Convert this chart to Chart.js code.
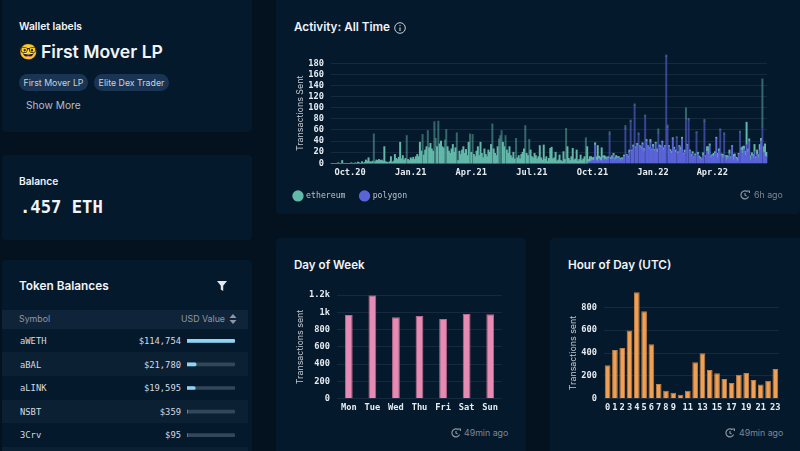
<!DOCTYPE html>
<html>
<head>
<meta charset="utf-8">
<title>Wallet</title>
<script src="https://cdn.jsdelivr.net/npm/chart.js@4"></script>
<style>
  html, body { margin: 0; padding: 0; }
  body { width: 800px; height: 451px; overflow: hidden; position: relative; background: #04121f; font-family: Inter, sans-serif; color: #f2f4f7; }
  .card { position: absolute; background: #05192c; border-radius: 4px; }
  .txt { position: absolute; white-space: nowrap; line-height: 1; }
  .mono { font-family: "DejaVu Sans Mono", monospace; }
  .pill { position: absolute; height: 17px; line-height: 17px; border-radius: 9px; background: #1a3553; color: #c9d2dc; font-size: 8.8px; text-align: center; }
  .row { position: absolute; left: 2px; width: 246px; }
  .ago { position: absolute; font-size: 8.8px; color: #7e8893; line-height: 1; white-space: nowrap; }
  canvas { position: absolute; }
  svg { position: absolute; }
</style>
</head>
<body>

<div class="card" style="left:2px;top:-4px;width:250px;height:136px"></div>
<div class="card" style="left:2px;top:155px;width:250px;height:85px"></div>
<div class="card" style="left:2px;top:260px;width:250px;height:195px"></div>
<div class="card" style="left:276px;top:-4px;width:524px;height:218px"></div>
<div class="card" style="left:276px;top:238px;width:250px;height:217px"></div>
<div class="card" style="left:550px;top:238px;width:254px;height:217px"></div>

<div class="txt" style="left:19px;top:21px;font-size:10.3px;font-weight:600">Wallet labels</div>
<div class="txt" style="left:19px;top:44px;font-size:15px">🤓</div>
<div class="txt" style="left:41px;top:43px;font-size:17.6px;font-weight:600">First Mover LP</div>
<div class="pill" style="left:19px;top:74px;width:69px">First Mover LP</div>
<div class="pill" style="left:94px;top:74px;width:75px">Elite Dex Trader</div>
<div class="txt" style="left:26px;top:100px;font-size:10.2px;color:#b5bcc5">Show More</div>

<div class="txt" style="left:19px;top:176px;font-size:10.2px;font-weight:600">Balance</div>
<div class="txt mono" style="left:20px;top:199px;font-size:17.2px;font-weight:700">.457 ETH</div>

<div class="txt" style="left:19px;top:281px;font-size:11.8px;font-weight:600">Token Balances</div>
<svg style="left:217px;top:281px" width="10" height="10" viewBox="0 0 10 10"><path d="M0 0H10L6.2 4.8V10L3.8 8.4V4.8Z" fill="#e4e8ec"/></svg>

<div class="row" style="top:310px;height:19px;background:#0f2439"></div>
<div class="row" style="top:352px;height:24px;background:#0c2034"></div>
<div class="row" style="top:400px;height:23px;background:#0c2034"></div>
<div class="row" style="top:447px;height:4px;background:#0c2034"></div>
<div class="txt" style="left:19px;top:315px;font-size:8.8px;color:#8d99a8">Symbol</div>
<div class="txt" style="right:575px;top:315px;font-size:8.8px;color:#8d99a8">USD Value</div>
<svg style="left:229px;top:314px" width="8" height="10" viewBox="0 0 8 10"><path d="M4 0L7.5 4H.5ZM4 10L.5 6H7.5Z" fill="#8d99a8"/></svg>
<div id="tokenRows"></div>
<canvas id="tokenChart" style="left:187px;top:329px;width:48px;height:118px"></canvas>

<div class="txt" style="left:294px;top:22px;font-size:11.7px;font-weight:600">Activity: All Time</div>
<svg style="left:394px;top:22px" width="12" height="12" viewBox="0 0 12 12"><circle cx="6" cy="6" r="5.3" fill="none" stroke="#c9ced4" stroke-width="1"/><path d="M6 5.2V9M6 3V4" stroke="#c9ced4" stroke-width="1.1"/></svg>
<canvas id="activityChart" style="left:279px;top:50px;width:501px;height:160px"></canvas>
<svg style="left:740px;top:190px" width="10" height="10" viewBox="0 0 10 10"><path d="M8.6 6.5A4 4 0 1 1 7.5 1.8M5 3V5.2L6.6 6M7 1H9.4V3" fill="none" stroke="#8a949e" stroke-width="1.2"/></svg>
<div class="ago" style="left:754px;top:191px">6h ago</div>

<div class="txt" style="left:294px;top:260px;font-size:11.6px;font-weight:600">Day of Week</div>
<canvas id="dayChart" style="left:290px;top:283px;width:225px;height:130px"></canvas>
<svg style="left:451px;top:428px" width="10" height="10" viewBox="0 0 10 10"><path d="M8.6 6.5A4 4 0 1 1 7.5 1.8M5 3V5.2L6.6 6M7 1H9.4V3" fill="none" stroke="#8a949e" stroke-width="1.2"/></svg>
<div class="ago" style="left:464px;top:429px">49min ago</div>

<div class="txt" style="left:568px;top:260px;font-size:11.7px;font-weight:600">Hour of Day (UTC)</div>
<canvas id="hourChart" style="left:560px;top:285px;width:225px;height:128px"></canvas>
<svg style="left:725px;top:428px" width="10" height="10" viewBox="0 0 10 10"><path d="M8.6 6.5A4 4 0 1 1 7.5 1.8M5 3V5.2L6.6 6M7 1H9.4V3" fill="none" stroke="#8a949e" stroke-width="1.2"/></svg>
<div class="ago" style="left:739px;top:429px">49min ago</div>

<script>
// values, one bucket is about two days
const ethereumTx = [
  0,0,0,0,0,1,0,0,5,0, 0,0,0,0,0,1,0,0,1,0, 2,1,0,3,0,2,6,4,10,3, 2,4,53,3,6,5,7,5,6,4,
  30,3,2,1,3,12,2,4,16,9, 7,11,38,8,14,6,9,50,7,5, 10,8,11,7,12,16,12,38,22,52, 15,24,30,59,28,36,26,22,75,45,
  30,76,35,40,30,28,42,61,30,22, 18,26,34,20,28,55,5,22,16,24, 30,18,25,14,38,53,20,52,16,12, 22,30,14,38,18,10,26,16,12,24,
  20,34,71,26,18,14,30,44,50,59, 38,30,50,24,18,30,14,10,20,8, 45,10,14,8,16,20,26,68,18,14, 43,24,12,10,18,14,8,12,32,10,
  6,33,8,12,4,9,27,29,8,10, 20,4,6,15,5,3,21,7,63,30, 9,5,12,27,6,8,24,4,7,15, 5,8,12,46,30,5,9,8,4,6,
  4,6,29,5,6,24,3,8,4,5, 3,5,4,6,3,4,6,2,3,5, 2,4,3,6,2,3,4,3,2,3, 3,2,4,3,2,4,3,5,2,3,
  2,3,5,2,4,3,2,6,8,3, 3,2,4,2,3,5,2,3,4,2, 3,4,2,3,2,5,3,2,4,20, 2,3,2,4,3,2,3,2,4,3,
  3,2,5,4,2,8,14,3,4,2, 6,3,2,8,4,2,3,6,3,2, 8,3,6,4,2,10,5,3,6,2, 3,4,12,5,8,40,6,4,8,5,
  6,12,4,8,6,10,5,87,10,22, 8
];
const polygonTx = [
  0,0,0,0,0,0,0,0,0,0, 0,0,0,0,0,0,0,0,0,0, 0,0,0,0,0,0,0,0,0,0, 0,0,0,0,0,0,0,0,0,0,
  0,0,0,0,0,0,0,0,0,0, 0,0,0,0,0,0,0,0,0,0, 0,0,0,0,0,0,0,0,0,0, 0,0,0,0,0,0,0,0,0,0,
  0,0,0,0,0,0,0,0,0,0, 0,0,0,0,0,0,0,0,0,0, 0,0,0,0,0,0,0,0,0,0, 0,0,0,0,0,0,0,0,0,0,
  0,0,0,0,0,0,0,0,0,0, 0,0,0,0,0,0,0,0,0,0, 0,0,0,0,0,0,0,0,0,0, 0,0,0,0,0,0,0,0,0,0,
  0,0,0,0,0,0,0,0,0,0, 0,0,0,0,0,0,0,0,0,0, 0,0,0,0,0,0,0,0,0,0, 0,0,0,0,0,2,3,4,6,5,
  33,6,3,8,5,4,10,6,8,5, 9,52,7,8,15,6,8,10,9,4, 8,6,12,62,14,10,20,75,22,30, 104,28,32,52,30,26,34,22,85,40,
  30,26,38,24,30,22,36,20,54,30, 28,38,24,30,192,64,30,22,18,44, 26,20,46,18,30,24,44,16,20,80, 32,78,22,12,18,10,14,55,16,10,
  8,6,14,75,12,22,16,32,10,14, 12,18,45,10,22,60,14,10,52,12, 6,10,18,8,30,6,12,8,4,16, 55,24,18,26,14,34,20,40,6,14,
  10,22,8,16,10,24,40,65,20,13, 12
];
const activityTickIndex = [14, 60, 106, 152, 198, 244, 289];
const activityTickLabels = ['Oct.20', 'Jan.21', 'Apr.21', 'Jul.21', 'Oct.21', 'Jan.22', 'Apr.22'];

const weekDays = ['Mon', 'Tue', 'Wed', 'Thu', 'Fri', 'Sat', 'Sun'];
const dayTx = [971, 1200, 944, 959, 925, 982, 978];

const hours = ['0','1','2','3','4','5','6','7','8','9','10','11','12','13','14','15','16','17','18','19','20','21','22','23'];
const hourTx = [292, 426, 444, 598, 931, 765, 476, 128, 70, 52, 35, 70, 318, 397, 251, 222, 172, 137, 210, 225, 163, 125, 157, 260];
const hoursShown = ['0','1','2','3','4','5','6','7','8','9','11','13','15','17','19','21','23'];

const tokenSymbols = ['aWETH', 'aBAL', 'aLINK', 'NSBT', '3Crv'];
const tokenUsd = [114754, 21780, 19595, 359, 95];
const tokenUsdMax = [114754, 114754, 114754, 114754, 114754];

const MONO = '"DejaVu Sans Mono", monospace';
const tickFont = { family: MONO, size: 8.7, weight: 'bold' };
const gridColor = '#16293d';

// token table text
const tokenRows = document.getElementById('tokenRows');
tokenSymbols.forEach((symbol, i) => {
  const y = 337 + i * 23.6;
  tokenRows.innerHTML += `
    <div class="txt mono" style="left:20px;top:${y}px;font-size:8.8px;color:#d5dbe2">${symbol}</div>
    <div class="txt mono" style="right:619px;top:${y}px;font-size:8.8px;color:#d5dbe2">$${tokenUsd[i].toLocaleString('en-US')}</div>
  `;
});

new Chart(document.getElementById('tokenChart'), {
  type: 'bar',
  data: {
    labels: tokenSymbols,
    datasets: [
      { data: tokenUsd, backgroundColor: '#8fd4f5', barThickness: 3, borderRadius: 2, order: 1 },
      { data: tokenUsdMax, backgroundColor: '#33465a', barThickness: 3, borderRadius: 2, order: 2 }
    ]
  },
  options: {
    indexAxis: 'y',
    responsive: false,
    animation: false,
    layout: { padding: 0 },
    plugins: { legend: { display: false }, tooltip: { enabled: false } },
    scales: {
      x: { display: false, min: 0, max: 114754, stacked: false },
      y: { display: false, stacked: true }
    }
  }
});

function yAxis(title, width, titlePad, max, step, cb) {
  return {
    min: 0,
    max: max,
    afterFit: scale => { scale.width = width; },
    border: { display: false },
    grid: { color: gridColor, drawTicks: false },
    title: { display: true, text: title, color: '#c3c9d0', font: { family: 'Inter', size: 8.9 }, padding: { top: titlePad, bottom: 0 } },
    ticks: { autoSkip: false, stepSize: step, color: '#e6ebf0', font: tickFont, padding: 7, callback: cb }
  };
}

function xAxis(height, ticks) {
  return {
    afterFit: scale => { scale.height = height; },
    border: { display: false },
    grid: { display: false, drawTicks: false },
    ticks: Object.assign({ autoSkip: false, maxRotation: 0, color: '#e6ebf0', font: tickFont, padding: 4 }, ticks)
  };
}

// tall days look faint in the original because they are under a pixel wide
const spikeColor = (solid, faint) => ctx => {
  const i = ctx.dataIndex;
  return ethereumTx[i] > 40 || polygonTx[i] > 45 ? faint : solid;
};

new Chart(document.getElementById('activityChart'), {
  type: 'bar',
  data: {
    labels: ethereumTx.map((v, i) => i),
    // polygon goes first so that it sits at the bottom of the stack
    datasets: [
      { label: 'polygon', data: polygonTx, backgroundColor: spikeColor('#5a63d8', 'rgba(90,99,216,.6)'), clip: false, barPercentage: 1, categoryPercentage: 1, pointStyle: 'circle' },
      { label: 'ethereum', data: ethereumTx, backgroundColor: spikeColor('#62b8a9', 'rgba(98,184,169,.5)'), clip: false, barPercentage: 1, categoryPercentage: 1, pointStyle: 'circle' }
    ]
  },
  options: {
    responsive: false,
    animation: false,
    layout: { padding: { top: 13.3, right: 13, left: 0, bottom: 0 } },
    plugins: {
      tooltip: { enabled: false },
      legend: {
        position: 'bottom',
        align: 'start',
        reverse: true,
        labels: { usePointStyle: true, boxWidth: 8, boxHeight: 8, padding: 15, color: '#b9c0c8', font: { family: MONO, size: 8.2 } }
      }
    },
    scales: {
      x: Object.assign(xAxis(13.5, { callback: v => activityTickLabels[activityTickIndex.indexOf(v)] }), {
        stacked: true,
        afterBuildTicks: scale => { scale.ticks = activityTickIndex.map(v => ({ value: v })); }
      }),
      y: Object.assign(yAxis('Transactions Sent', 52, 16, 180, 20), { stacked: true })
    }
  }
});

new Chart(document.getElementById('dayChart'), {
  type: 'bar',
  data: {
    labels: weekDays,
    datasets: [{ data: dayTx, backgroundColor: '#e58bb4', borderColor: '#b8688d', borderWidth: 1, barPercentage: 0.33, categoryPercentage: 1 }]
  },
  options: {
    responsive: false,
    animation: false,
    layout: { padding: { top: 7, right: 13, left: 0, bottom: 0 } },
    plugins: { legend: { display: false }, tooltip: { enabled: false } },
    scales: {
      x: xAxis(14.3),
      y: yAxis('Transactions sent', 47, 5, 1200, 200, v => (v >= 1000 ? v / 1000 + 'k' : v))
    }
  }
});

new Chart(document.getElementById('hourChart'), {
  type: 'bar',
  data: {
    labels: hours,
    datasets: [{ data: hourTx, backgroundColor: '#f0a055', borderColor: '#c07f42', borderWidth: 1, clip: false, barPercentage: 0.78, categoryPercentage: 1 }]
  },
  options: {
    responsive: false,
    animation: false,
    layout: { padding: { top: 22.3, right: 6, left: 0, bottom: 0 } },
    plugins: { legend: { display: false }, tooltip: { enabled: false } },
    scales: {
      x: xAxis(14.3, { callback: function (v) { const t = this.getLabelForValue(v); return hoursShown.includes(t) ? t : ''; } }),
      y: yAxis('Transactions sent', 44, 8, 800, 200)
    }
  }
});
</script>
</body>
</html>
